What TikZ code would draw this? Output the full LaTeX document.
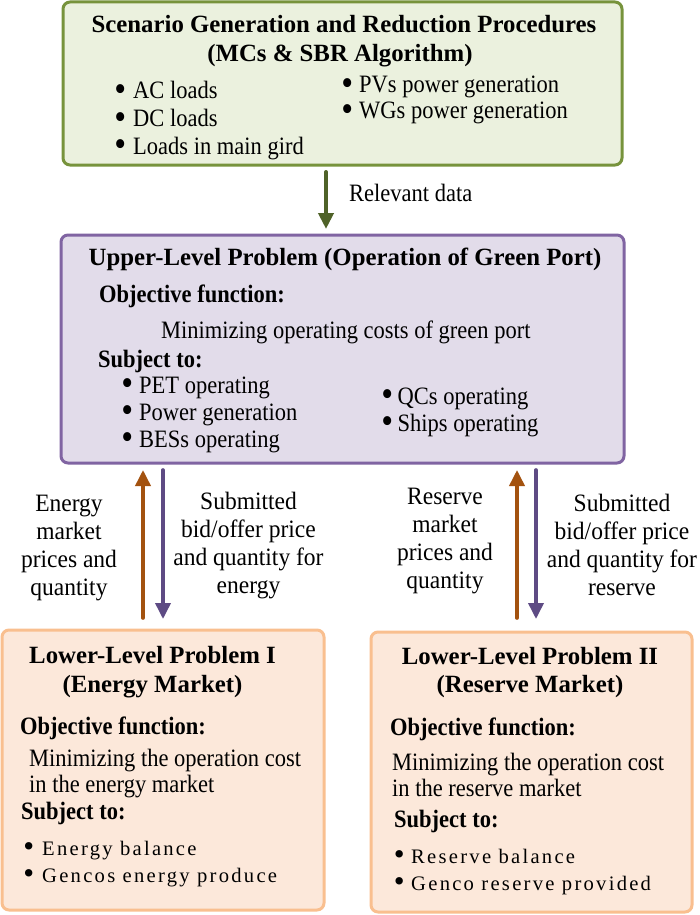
\documentclass[tikz,border=0pt]{standalone}
\usepackage{graphicx}
\usepackage{fontspec}
\setmainfont{Liberation Serif}
\newfontfamily\bodyf{Liberation Serif}[FakeStretch=0.9]
\newfontfamily\labf{Liberation Serif}[FakeStretch=0.94]
\newfontfamily\spf{Liberation Serif}[LetterSpace=11]
\usetikzlibrary{arrows.meta}
\definecolor{gfill}{HTML}{EBF1DE}
\definecolor{gline}{HTML}{77933C}
\definecolor{garrow}{HTML}{4F6228}
\definecolor{pfill}{HTML}{E2DCEA}
\definecolor{pline}{HTML}{8064A2}
\definecolor{parrow}{HTML}{5E4B84}
\definecolor{ofill}{HTML}{FCE8DA}
\definecolor{oline}{HTML}{F9BF8F}
\definecolor{oarrow}{HTML}{A3520F}
\tikzset{
  box/.style={line width=3pt, rounded corners=7pt},
  ttl/.style={inner sep=0pt, anchor=base, font=\bfseries\fontsize{24.8}{28}\selectfont},
  sub/.style={inner sep=0pt, anchor=base west, text height=17pt, text depth=5pt, font=\bodyf\bfseries\fontsize{25}{28}\selectfont},
  txt/.style={inner sep=0pt, anchor=base west, text height=17pt, text depth=5pt, font=\bodyf\fontsize{25}{28}\selectfont},
  spt/.style={inner sep=0pt, anchor=base west, text height=14pt, text depth=4pt, font=\spf\fontsize{20.6}{24}\selectfont},
  lab/.style={inner sep=0pt, anchor=base, align=center, font=\labf\fontsize{25}{28}\selectfont},
  arr/.style={line width=3.6pt, line cap=round, -{Triangle[length=16pt,width=15pt]}}
}
% bullet centred on the node's west point, text #1 pt further right
\newcommand{\bl}[2]{\makebox[0pt][c]{\raisebox{-0.09em}{\scalebox{1.5}{\textbullet}}}\hspace{#1pt}#2}
\begin{document}
\begin{tikzpicture}[x=1pt,y=-1pt]
\useasboundingbox (0,0) rectangle (699,915);
% top green box
\draw[box, draw=gline, fill=gfill] (63,2) rectangle (622,165);
\node[ttl] (t1) at (344,33) {Scenario Generation and Reduction Procedures};
\node[ttl] (t2) at (340,62) {(MCs \& SBR Algorithm)};
\node[txt] (g1) at (120,99) {\bl{13}{AC loads}};
\node[txt] (g2) at (120,127) {\bl{13}{DC loads}};
\node[txt] (g3) at (120,154) {\bl{13}{Loads in main gird}};
\node[txt] (g4) at (347,93) {\bl{12}{PVs power generation}};
\node[txt] (g5) at (347,119) {\bl{12}{WGs power generation}};
\coordinate (ga) at (326,172);
\coordinate (gb) at (326,229);
\draw[arr, line width=4pt, draw=garrow] (ga) -- (gb);
\node[txt] (rel) at (349,201) {Relevant data};
% purple box
\draw[box, draw=pline, fill=pfill] (61,235) rectangle (624,463);
\node[ttl] (u1) at (345,265) {Upper-Level Problem (Operation of Green Port)};
\node[sub] (u2) at (99,302) {Objective function:};
\node[txt] (u3) at (161,338) {Minimizing operating costs of green port};
\node[sub] (u4) at (98,367) {Subject to:};
\node[txt] (p1) at (127,393) {\bl{12}{PET operating}};
\node[txt] (p2) at (127,420) {\bl{12}{Power generation}};
\node[txt] (p3) at (127,447) {\bl{12}{BESs operating}};
\node[txt] (p4) at (387,404) {\bl{10.5}{QCs operating}};
\node[txt] (p5) at (387,431) {\bl{10.5}{Ships operating}};
% arrows
\coordinate (a1s) at (143,618); \coordinate (a1e) at (143,470);
\coordinate (a2s) at (163,470); \coordinate (a2e) at (163,619);
\coordinate (a3s) at (517,618); \coordinate (a3e) at (517,470);
\coordinate (a4s) at (536,470); \coordinate (a4e) at (536,619);
\draw[arr, draw=oarrow] (a1s) -- (a1e);
\draw[arr, draw=parrow] (a2s) -- (a2e);
\draw[arr, draw=oarrow] (a3s) -- (a3e);
\draw[arr, draw=parrow] (a4s) -- (a4e);
\node[lab] (l1) at (69,595) {Energy\\market\\prices and\\quantity};
\node[lab] (l2) at (248.5,593) {Submitted\\bid/offer price\\and quantity for\\energy};
\node[lab] (l3) at (445,588) {Reserve\\market\\prices and\\quantity};
\node[lab] (l4) at (622,595) {Submitted\\bid/offer price\\and quantity for\\reserve};
% lower left box
\draw[box, draw=oline, fill=ofill] (2,630) rectangle (324,910);
\node[ttl] (e1) at (152.5,663) {Lower-Level Problem I};
\node[ttl] (e2) at (152.5,692) {(Energy Market)};
\node[sub] (e3) at (20,734) {Objective function:};
\node[txt] (e4) at (29,766) {Minimizing the operation cost};
\node[txt] (e5) at (29,792) {in the energy market};
\node[sub] (e6) at (21,819) {Subject to:};
\node[spt] (e7) at (28.5,855) {\bl{13.5}{Energy balance}};
\node[spt] (e8) at (28.5,882) {\bl{13.5}{Gencos energy produce}};
% lower right box
\draw[box, draw=oline, fill=ofill] (371,632) rectangle (692,912);
\node[ttl] (r1) at (530,664) {Lower-Level Problem II};
\node[ttl] (r2) at (530,692) {(Reserve Market)};
\node[sub] (r3) at (390,735) {Objective function:};
\node[txt] (r4) at (392,770) {Minimizing the operation cost};
\node[txt] (r5) at (392,796) {in the reserve market};
\node[sub] (r6) at (394,827) {Subject to:};
\node[spt] (r7) at (399,863) {\bl{12}{Reserve balance}};
\node[spt] (r8) at (399,890) {\bl{12}{Genco reserve provided}};
\end{tikzpicture}
\end{document}
